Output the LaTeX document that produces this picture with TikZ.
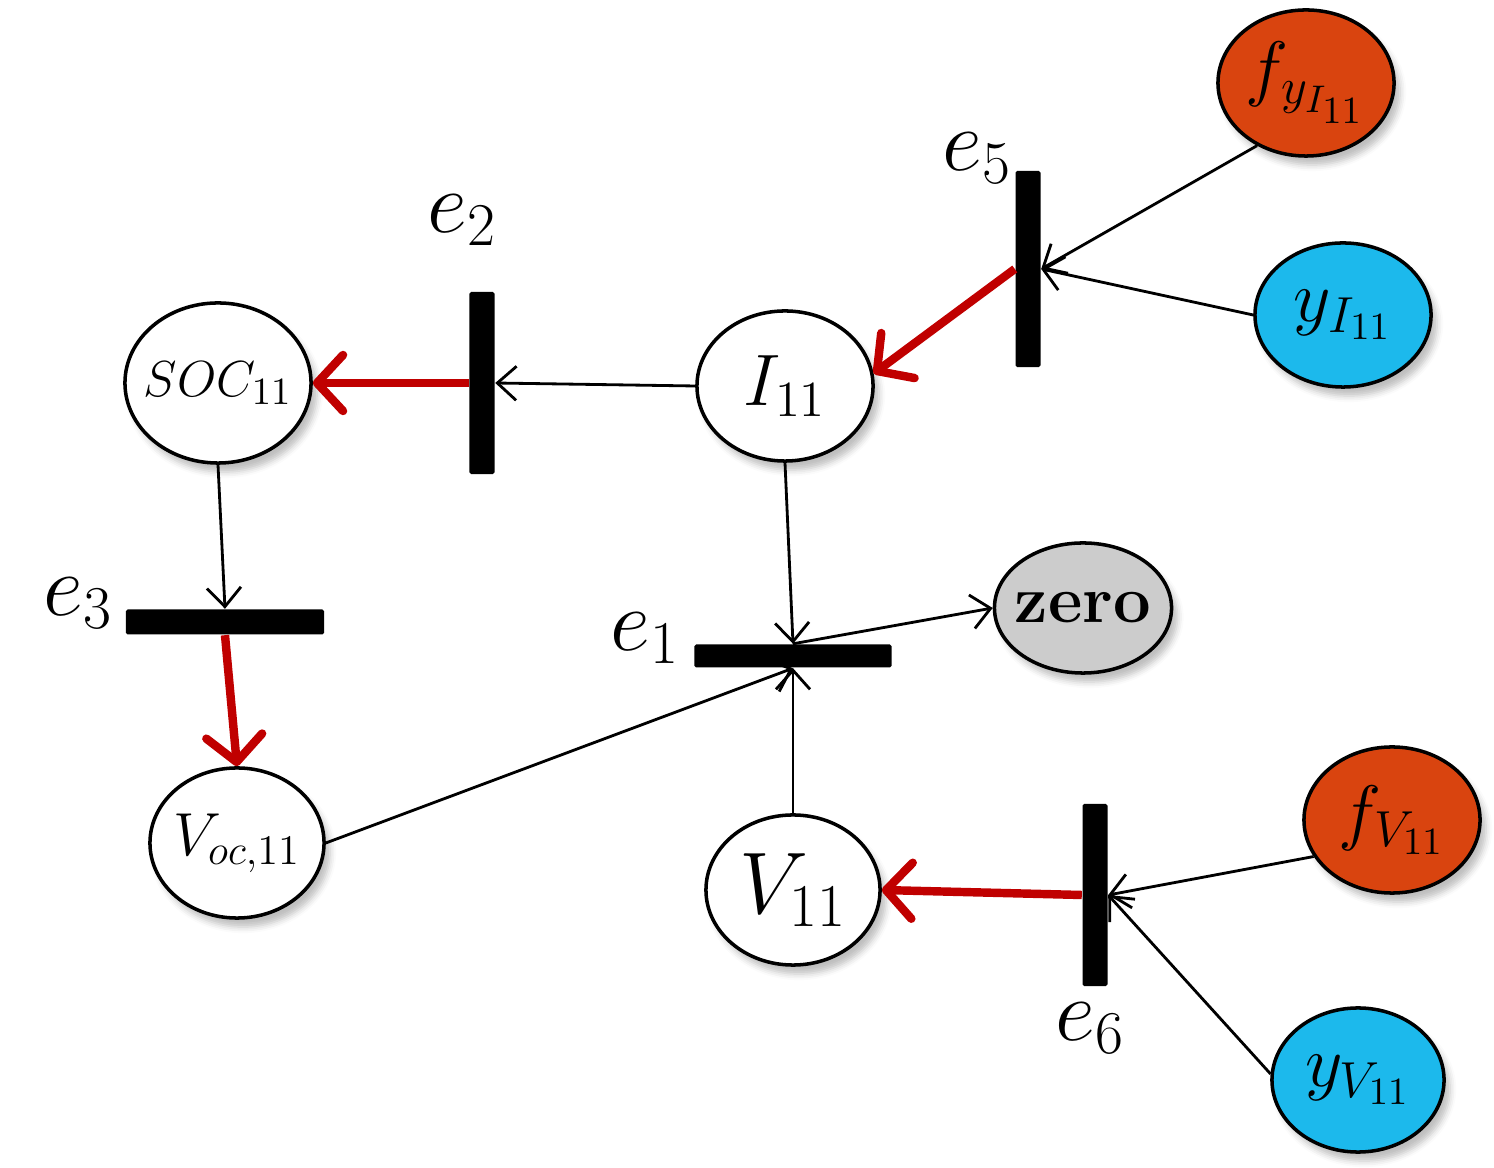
\documentclass[tikz,border=0pt]{standalone}
\usepackage{amsmath}
\usetikzlibrary{arrows.meta}
\usetikzlibrary{shapes.geometric}
\usetikzlibrary{shadows.blur}

\definecolor{fuelorange}{HTML}{D9440F}
\definecolor{skycyan}{HTML}{1CB9EC}
\definecolor{flowred}{HTML}{C00000}

\begin{document}
\begin{tikzpicture}[x=0.01cm,y=-0.01cm,
        place/.style={ellipse, draw, line width=1pt, inner sep=0pt, fill=white,
            minimum width=1.76cm, minimum height=1.5cm,
            blur shadow={shadow xshift=0.6mm, shadow yshift=-0.9mm, shadow opacity=25}},
        vbar/.style={rectangle, fill=black, rounded corners=0.5pt, inner sep=0pt,
            minimum width=0.25cm, minimum height=1.82cm},
        hbar/.style={rectangle, fill=black, rounded corners=0.5pt, inner sep=0pt,
            minimum width=1.98cm, minimum height=0.25cm},
        flow/.style={line width=0.8pt, -{Straight Barb[length=1.9mm,width=3.4mm]}},
        redflow/.style={draw=flowred, line width=2.4pt,
            -{Straight Barb[round,length=2.6mm,width=5.6mm]}},
        elabel/.style={font=\fontsize{24}{28}\selectfont}]
        \useasboundingbox (0,0) rectangle (1494,1168);

        % places
        \node[place, minimum width=1.86cm, minimum height=1.6cm] (soc) at (218,383)
            {\makebox[0pt]{\fontsize{15.5}{18}\selectfont $SOC_{11}$}};
        \node[place] (i11) at (785,386) {\fontsize{21}{24}\selectfont $I_{11}$};
        \node[place, minimum width=1.74cm] (voc) at (237,843)
            {\makebox[0pt]{\fontsize{18.5}{22}\selectfont $V_{oc,11}$}};
        \node[place, minimum width=1.74cm] (v11) at (793,890) {\fontsize{23}{26}\selectfont $V_{11}$};
        \node[place, fill=gray!40, minimum width=1.77cm, minimum height=1.3cm] (zero) at (1083,608)
            {\makebox[0pt]{\fontsize{19}{22}\selectfont\textbf{zero}}};
        \node[place, fill=fuelorange, minimum height=1.46cm] (fyi) at (1306,83) {\fontsize{21}{24}\selectfont $f_{y_{I_{11}}}$};
        \node[place, fill=skycyan, minimum height=1.44cm] (yi) at (1343,315) {\fontsize{21}{24}\selectfont $y_{I_{11}}$};
        \node[place, fill=fuelorange, minimum height=1.46cm] (fv) at (1392,820) {\fontsize{21}{24}\selectfont $f_{V_{11}}$};
        \node[place, fill=skycyan, minimum width=1.72cm, minimum height=1.44cm] (yv) at (1358,1080) {\fontsize{21}{24}\selectfont $y_{V_{11}}$};

        % transitions
        \node[vbar, minimum height=1.96cm] (e5) at (1028,269) {};
        \node[vbar] (e2) at (482,383) {};
        \node[hbar] (e3) at (225,622) {};
        \node[hbar, minimum width=1.97cm, minimum height=0.23cm] (e1) at (793,656) {};
        \node[vbar] (e6) at (1095,895) {};

        \node[elabel] (l5) at (977,158) {$e_5$};
        \node[elabel] (l2) at (462,220) {$e_2$};
        \node[elabel] (l3) at (78,603) {$e_3$};
        \node[elabel] (l1) at (645,638) {$e_1$};
        \node[elabel] (l6) at (1090,1028) {$e_6$};

        % black arcs
        \draw[flow] (fyi.232) -- (e5.east);
        \draw[flow] (yi.west) -- (e5.east);
        \draw[flow] (i11.west) -- (e2.east);
        \draw[flow] (soc.south) -- (e3.north);
        \draw[flow] (i11.south) -- (e1.north);
        \draw[flow] (v11.north) -- (e1.south);
        \draw[flow] (voc.east) -- (e1.south);
        \draw[flow] (e1.north) -- (zero.west);
        \draw[flow] (fv.205) -- (e6.east);
        \draw[flow] (yv.176) -- (e6.east);

        % red arcs
        \draw[redflow] (e5.west) -- (i11.8);
        \draw[redflow] (e2.west) -- (soc.east);
        \draw[redflow] (e3.south) -- (voc.north);
        \draw[redflow] (e6.west) -- (v11.east);
\end{tikzpicture}
\end{document}
